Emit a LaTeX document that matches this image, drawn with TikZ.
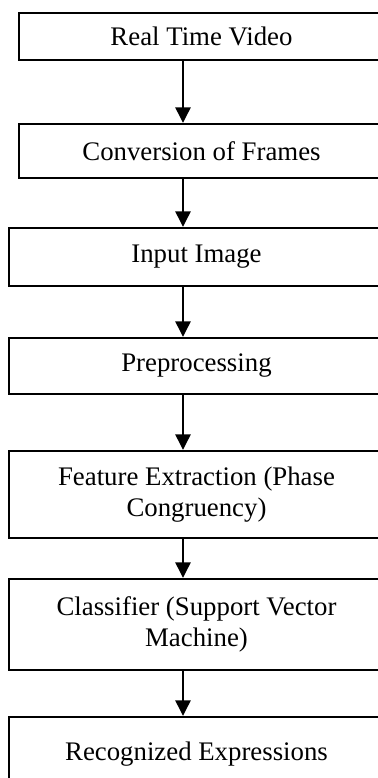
\documentclass[tikz,border=0pt]{standalone}
\usepackage{fontspec}
\setmainfont{Liberation Serif}
\usetikzlibrary{arrows.meta, calc}

\begin{document}
\begin{tikzpicture}[x = 0.5pt, y = -0.5pt, line width = 1.1pt,
    stage/.style = {rectangle, draw=black, align=center, inner sep=0pt,
                    font=\fontsize{13.4}{15.3}\selectfont},
    flow/.style = {line width=1.4pt, -{Triangle[width=7.5pt, length=7.8pt]}}]
  \useasboundingbox (0,0) rectangle (378,778);
  \clip (0,0) rectangle (378,778);

  \node[stage, minimum width=182.5pt, minimum height=23.6pt] (video) at (201.5, 36.3) {Real Time Video};
  \node[stage, minimum width=182.5pt, minimum height=27pt] (frames) at (201.5, 151) {Conversion of Frames};
  \node[stage, minimum width=187.5pt, minimum height=29pt] (input) at (196.5, 257) {Input Image};
  \node[stage, minimum width=187.5pt, minimum height=28pt] (prep) at (196.5, 366) {Preprocessing};
  \node[stage, minimum width=187.5pt, minimum height=43.5pt] (feat) at (196.5, 494.5) {Feature Extraction (Phase\\ Congruency)};
  \node[stage, minimum width=187.5pt, minimum height=45.5pt] (svm) at (196.5, 624.5) {Classifier (Support Vector\\ Machine)};
  \node[stage, minimum width=187.5pt, minimum height=37pt] (out) at (196.5, 754) {Recognized Expressions};

  \coordinate (ax) at (183, 0);
  \draw[flow] (video.south -| ax) -- (frames.north -| ax);
  \draw[flow] (frames.south -| ax) -- (input.north -| ax);
  \draw[flow] (input.south -| ax) -- (prep.north -| ax);
  \draw[flow] (prep.south -| ax) -- (feat.north -| ax);
  \draw[flow] (feat.south -| ax) -- (svm.north -| ax);
  \draw[flow] (svm.south -| ax) -- (out.north -| ax);
\end{tikzpicture}
\end{document}
